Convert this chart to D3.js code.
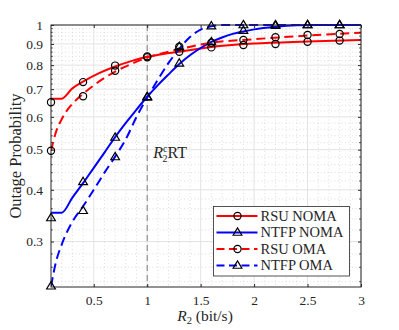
<!DOCTYPE html>
<html>
<head>
<meta charset="utf-8">
<script src="https://cdn.jsdelivr.net/npm/d3@7/dist/d3.min.js"></script>
<style>
  body { margin: 0; background: #fff; }
  text { font-family: "Liberation Serif", "DejaVu Serif", serif; fill: #262626; }
</style>
</head>
<body>
<script>
const WIDTH = 399;
const HEIGHT = 330;
const MARGIN = { left: 51, top: 25, right: 38, bottom: 43 };

// analytical curves
const rsuNomaCurveX = [0.1, 0.2, 0.3, 0.4, 0.55, 0.7, 0.85, 1.0, 1.15, 1.3, 1.6, 2.0, 2.5, 3.0];
const rsuNomaCurveY = [0.664, 0.664, 0.703, 0.730, 0.765, 0.794, 0.818, 0.838, 0.851, 0.862, 0.885, 0.902, 0.912, 0.920];

const rsuOmaCurveX = [0.1, 0.15, 0.2, 0.25, 0.3, 0.4, 0.5, 0.6, 0.7, 0.85, 1.0, 1.15, 1.3, 1.6, 2.0, 2.5, 3.0];
const rsuOmaCurveY = [0.497, 0.555, 0.592, 0.622, 0.645, 0.682, 0.715, 0.745, 0.772, 0.805, 0.834, 0.856, 0.874, 0.906, 0.924, 0.943, 0.958];

const ntfpNomaCurveX = [0.1, 0.2, 0.3, 0.4, 0.5, 0.6, 0.7, 0.8, 0.9, 1.0, 1.1, 1.2, 1.3, 1.4, 1.5, 1.6, 1.7, 1.8, 1.9, 2.0, 2.2, 2.4, 2.6, 3.0];
const ntfpNomaCurveY = [0.352, 0.352, 0.383, 0.415, 0.452, 0.492, 0.536, 0.580, 0.625, 0.671, 0.716, 0.760, 0.805, 0.845, 0.880, 0.910, 0.933, 0.952, 0.965, 0.976, 0.990, 0.998, 1.0, 1.0];

const ntfpOmaCurveX = [0.1, 0.15, 0.2, 0.3, 0.4, 0.5, 0.6, 0.7, 0.8, 0.9, 1.0, 1.1, 1.2, 1.3, 1.4, 1.5, 1.6, 1.7, 3.0];
const ntfpOmaCurveY = [0.234, 0.27, 0.295, 0.335, 0.365, 0.40, 0.44, 0.481, 0.53, 0.60, 0.668, 0.738, 0.81, 0.875, 0.935, 0.975, 0.993, 1.0, 1.0];

// simulation points
const simX = [0.1, 0.4, 0.7, 1.0, 1.3, 1.6, 1.9, 2.2, 2.5, 2.8];
const rsuNomaSim = [0.651, 0.728, 0.798, 0.840, 0.862, 0.883, 0.895, 0.900, 0.911, 0.917];
const rsuOmaSim = [0.497, 0.673, 0.775, 0.836, 0.886, 0.906, 0.920, 0.934, 0.946, 0.951];
const ntfpNomaSim = [0.342, 0.418, 0.535, 0.669, 0.808, 0.910, 0.969, 0.996, 1.0, 1.0];
const ntfpOmaSim = [0.234, 0.356, 0.480, 0.671, 0.886, 0.994, 1.0, 1.0, 1.0, 1.0];

const xTicks = [0.5, 1, 1.5, 2, 2.5, 3];
const yTicks = [0.3, 0.4, 0.5, 0.6, 0.7, 0.8, 0.9, 1];
const legendLabels = ["RSU NOMA", "NTFP NOMA", "RSU OMA", "NTFP OMA"];
const thresholdX = 1;

const series = [
  { name: legendLabels[0], cx: rsuNomaCurveX, cy: rsuNomaCurveY, sim: rsuNomaSim, color: "#ff0000", dash: null, marker: "circle" },
  { name: legendLabels[1], cx: ntfpNomaCurveX, cy: ntfpNomaCurveY, sim: ntfpNomaSim, color: "#0000ff", dash: null, marker: "triangle" },
  { name: legendLabels[2], cx: rsuOmaCurveX, cy: rsuOmaCurveY, sim: rsuOmaSim, color: "#ff0000", dash: "9,5", marker: "circle" },
  { name: legendLabels[3], cx: ntfpOmaCurveX, cy: ntfpOmaCurveY, sim: ntfpOmaSim, color: "#0000ff", dash: "9,5", marker: "triangle" }
];

const plotW = WIDTH - MARGIN.left - MARGIN.right;
const plotH = HEIGHT - MARGIN.top - MARGIN.bottom;

let svg = d3.select("body").append("svg")
    .attr("width", WIDTH)
    .attr("height", HEIGHT);

let g = svg.append("g")
    .attr("transform", "translate(" + MARGIN.left + "," + MARGIN.top + ")");

let xScale = d3.scaleLinear().domain([0.1, 3]).range([0, plotW]);
let yScale = d3.scaleLog().domain([0.233, 1]).range([plotH, 0]);

// minor grid
let xMinor = d3.range(2, 30).map(function(i) { return i / 10; })
    .filter(function(v) { return Math.abs(v * 2 - Math.round(v * 2)) > 1e-6; });
let yMinor = d3.range(12, 50).map(function(i) { return i / 50; })
    .filter(function(v) { return Math.abs(v * 10 - Math.round(v * 10)) > 1e-6; });

g.selectAll(".xminor").data(xMinor).enter().append("line")
    .attr("x1", function(d) { return xScale(d); })
    .attr("x2", function(d) { return xScale(d); })
    .attr("y1", 0).attr("y2", plotH)
    .attr("stroke", "#c8c8c8").attr("stroke-width", 0.6)
    .attr("stroke-dasharray", "1,2.5");

g.selectAll(".yminor").data(yMinor).enter().append("line")
    .attr("x1", 0).attr("x2", plotW)
    .attr("y1", function(d) { return yScale(d); })
    .attr("y2", function(d) { return yScale(d); })
    .attr("stroke", "#c8c8c8").attr("stroke-width", 0.6)
    .attr("stroke-dasharray", "1,2.5");

// major grid
g.selectAll(".xgrid").data(xTicks).enter().append("line")
    .attr("x1", function(d) { return xScale(d); })
    .attr("x2", function(d) { return xScale(d); })
    .attr("y1", 0).attr("y2", plotH)
    .attr("stroke", "#e3e3e3").attr("stroke-width", 1);

g.selectAll(".ygrid").data(yTicks).enter().append("line")
    .attr("x1", 0).attr("x2", plotW)
    .attr("y1", function(d) { return yScale(d); })
    .attr("y2", function(d) { return yScale(d); })
    .attr("stroke", "#e3e3e3").attr("stroke-width", 1);

// threshold line
g.append("line")
    .attr("x1", xScale(thresholdX)).attr("x2", xScale(thresholdX))
    .attr("y1", 0).attr("y2", plotH)
    .attr("stroke", "#7f7f7f").attr("stroke-width", 1)
    .attr("stroke-dasharray", "6,4");

let note = g.append("text")
    .attr("x", xScale(thresholdX) + 6)
    .attr("y", 133)
    .style("font-size", "16px");
note.append("tspan").attr("font-style", "italic").text("R");
note.append("tspan").attr("dy", -6).style("font-size", "10px").text("c");
note.append("tspan").attr("dx", -5).attr("dy", 10).style("font-size", "10px").text("2");
note.append("tspan").attr("dy", -4).text("RT");

// curves
let clip = svg.append("clipPath").attr("id", "plotclip");
clip.append("rect").attr("x", 0).attr("y", -1).attr("width", plotW).attr("height", plotH + 2);

let line = d3.line()
    .x(function(d) { return xScale(d[0]); })
    .y(function(d) { return yScale(d[1]); })
    .curve(d3.curveMonotoneX);

let curves = g.append("g").attr("clip-path", "url(#plotclip)");
for (let i = 0; i < series.length; i++) {
  let s = series[i];
  curves.append("path")
      .attr("d", line(d3.zip(s.cx, s.cy)))
      .attr("fill", "none")
      .attr("stroke", s.color)
      .attr("stroke-width", 2)
      .attr("stroke-dasharray", s.dash);
}

function drawMarker(sel, kind, x, y) {
  if (kind === "circle") {
    sel.append("circle").attr("cx", x).attr("cy", y).attr("r", 3.6)
        .attr("fill", "none").attr("stroke", "#000").attr("stroke-width", 1.2);
  } else {
    let r = 4.6;
    let pts = [[x, y - r], [x + r * 0.95, y + r * 0.6], [x - r * 0.95, y + r * 0.6]];
    sel.append("path").attr("d", "M" + pts.join("L") + "Z")
        .attr("fill", "none").attr("stroke", "#000").attr("stroke-width", 1.2);
  }
}

// axes box and ticks
g.append("rect")
    .attr("x", 0).attr("y", 0).attr("width", plotW).attr("height", plotH)
    .attr("fill", "none").attr("stroke", "#262626").attr("stroke-width", 1);

let xAxis = d3.axisBottom(xScale).tickValues(xTicks).tickSize(-3).tickPadding(8)
    .tickFormat(function(d) { return d3.format("")(d); });
let xg = g.append("g").attr("transform", "translate(0," + plotH + ")").call(xAxis);
xg.select(".domain").remove();
xg.selectAll("line").attr("stroke", "#262626");
xg.selectAll("text").style("font-size", "13.5px").style("font-family", "Liberation Serif");

let xTop = g.append("g").call(d3.axisTop(xScale).tickValues(xTicks).tickSize(-3).tickFormat(""));
xTop.select(".domain").remove();
xTop.selectAll("line").attr("stroke", "#262626");

let yAxis = d3.axisLeft(yScale).tickValues(yTicks).tickSize(-3).tickPadding(8)
    .tickFormat(function(d) { return d3.format("")(d); });
let yg = g.append("g").call(yAxis);
yg.select(".domain").remove();
yg.selectAll("line").attr("stroke", "#262626");
yg.selectAll("text").style("font-size", "13.5px").style("font-family", "Liberation Serif");

let yRight = g.append("g").attr("transform", "translate(" + plotW + ",0)")
    .call(d3.axisRight(yScale).tickValues(yTicks).tickSize(-3).tickFormat(""));
yRight.select(".domain").remove();
yRight.selectAll("line").attr("stroke", "#262626");

// minor ticks on the log axis
[0, plotW].forEach(function(x0) {
  let dir = x0 === 0 ? 1 : -1;
  g.selectAll(null).data(yMinor).enter().append("line")
      .attr("x1", x0).attr("x2", x0 + dir * 1.8)
      .attr("y1", function(d) { return yScale(d); })
      .attr("y2", function(d) { return yScale(d); })
      .attr("stroke", "#262626").attr("stroke-width", 0.8);
});

// simulation markers
let marks = g.append("g");
for (let i = 0; i < series.length; i++) {
  let s = series[i];
  for (let j = 0; j < simX.length; j++) {
    drawMarker(marks, s.marker, xScale(simX[j]), yScale(s.sim[j]));
  }
}

// axis labels
let xl = svg.append("text")
    .attr("x", MARGIN.left + plotW / 2 - 1)
    .attr("y", 321)
    .attr("text-anchor", "middle")
    .style("font-size", "15.5px");
xl.append("tspan").attr("font-style", "italic").text("R");
xl.append("tspan").attr("dy", 3).style("font-size", "10.5px").text("2");
xl.append("tspan").attr("dy", -3).text(" (bit/s)");

svg.append("text")
    .attr("transform", "translate(21," + (MARGIN.top + 131) + ") rotate(-90)")
    .attr("text-anchor", "middle")
    .style("font-size", "16.5px")
    .text("Outage Probability");

// legend
let lg = svg.append("g").attr("transform", "translate(213.5,206.5)");
lg.append("rect")
    .attr("width", 136).attr("height", 69.5)
    .attr("fill", "#fff").attr("stroke", "#262626").attr("stroke-width", 0.8);
for (let i = 0; i < series.length; i++) {
  let s = series[i];
  let y = 9.5 + i * 16.5;
  lg.append("line")
      .attr("x1", 3).attr("x2", 44).attr("y1", y).attr("y2", y)
      .attr("stroke", s.color).attr("stroke-width", 2)
      .attr("stroke-dasharray", s.dash ? "8,4.5" : null);
  drawMarker(lg, s.marker, 24, y);
  lg.append("text")
      .attr("x", 47).attr("y", y + 4.5)
      .style("font-size", "14.5px")
      .text(s.name);
}
</script>
</body>
</html>
